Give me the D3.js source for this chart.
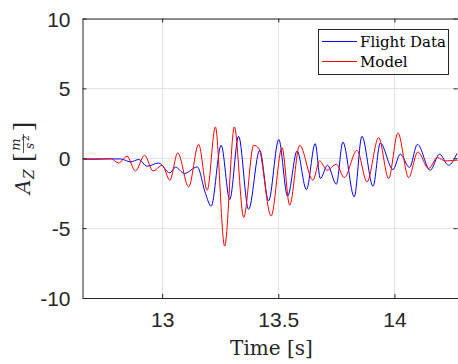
<!DOCTYPE html>
<html>
<head>
<meta charset="utf-8">
<script src="https://cdn.jsdelivr.net/npm/d3@7"></script>
<style>
  html, body { margin: 0; padding: 0; background: #fff; }
  svg { display: block; }
</style>
</head>
<body>
<svg id="chart" width="458" height="364"></svg>
<script>
// ---- data ----
const flightT = [12.661, 12.821, 12.864, 12.899, 12.935, 12.985, 13.033, 13.057, 13.096, 13.151, 13.186, 13.211,
  13.254, 13.291, 13.329, 13.372, 13.420, 13.458, 13.502, 13.540, 13.581, 13.621, 13.659, 13.681, 13.712,
  13.750, 13.778, 13.827, 13.860, 13.908, 13.939, 13.994, 14.025, 14.065, 14.099, 14.154, 14.194, 14.233, 14.269];
const flightV = [-0.05, -0.05, -0.26, -0.09, -0.57, -0.34, -1.05, -0.64, -1.09, -0.62, -2.50, -3.43,
  0.93, -2.95, 1.57, -3.66, 0.57, -3.05, 1.34, -2.71, 0.52, -2.24, 1.05, -1.45, -0.50,
  -1.86, 1.16, -2.76, 1.57, -2.00, 1.09, -0.81, 0.29, -0.66, 1.00, -0.86, 0.29, -0.50, 0.34];

const modelT = [12.661, 12.735, 12.778, 12.813, 12.849, 12.885, 12.924, 12.961, 13.000, 13.033, 13.067, 13.114,
  13.157, 13.194, 13.229, 13.269, 13.311, 13.351, 13.394, 13.416, 13.469, 13.516, 13.549, 13.592, 13.649,
  13.678, 13.710, 13.750, 13.784, 13.839, 13.882, 13.932, 13.975, 14.015, 14.061, 14.101, 14.147, 14.185, 14.219, 14.278];
const modelV = [-0.09, -0.07, -0.02, -0.34, 0.14, -0.91, 0.21, -0.91, -0.50, -1.57, 0.38, -2.05,
  1.00, -2.29, 2.24, -6.29, 2.24, -4.24, 0.93, 0.71, -4.14, 0.76, -3.36, 0.93, -1.57,
  -0.19, -0.86, -0.43, -1.38, 0.57, -1.69, 1.48, -1.45, 1.81, -1.38, 0.45, -0.74, 0.05, -0.19, -0.12];

const xTicks = [13, 13.5, 14];
const xTickLabels = ["13", "13.5", "14"];
const yTicks = [-10, -5, 0, 5, 10];
const yTickLabels = ["-10", "-5", "0", "5", "10"];
const seriesNames = ["Flight Data", "Model"];
const seriesColors = ["#0000ff", "#ff0000"];

// ---- layout ----
const L = 82.5, R = 459, T = 18.5, B = 298;
const svg = d3.select("#chart");

const x = d3.scaleLinear().domain([12.657, 14.278]).range([L, R]);
const y = d3.scaleLinear().domain([-10, 10]).range([B, T]);

// grid
const grid = svg.append("g");
grid.selectAll("line.gx").data(xTicks).join("line")
  .attr("x1", d => Math.round(x(d)) + 0.5).attr("x2", d => Math.round(x(d)) + 0.5)
  .attr("y1", T).attr("y2", B)
  .attr("stroke", "#e3e3e3").attr("stroke-width", 1);
grid.selectAll("line.gy").data(yTicks).join("line")
  .attr("y1", d => Math.round(y(d)) + 0.5).attr("y2", d => Math.round(y(d)) + 0.5)
  .attr("x1", L).attr("x2", R)
  .attr("stroke", "#e3e3e3").attr("stroke-width", 1);

// clip
svg.append("clipPath").attr("id", "clip").append("rect")
  .attr("x", L).attr("y", T).attr("width", R - L).attr("height", B - T);

const line = d3.line().x(d => x(d[0])).y(d => y(d[1])).curve(d3.curveMonotoneX);
const series = [
  d3.zip(flightT, flightV),
  d3.zip(modelT, modelV)
];
const plot = svg.append("g").attr("clip-path", "url(#clip)");
series.forEach((s, i) => {
  plot.append("path").datum(s)
    .attr("d", line)
    .attr("fill", "none")
    .attr("stroke", seriesColors[i])
    .attr("stroke-width", 1)
    .attr("stroke-linejoin", "round");
});

// axes (MATLAB style: ticks inside, box)
const axisColor = "#262626";
const xAxisB = d3.axisBottom(x).tickValues(xTicks).tickSizeInner(-4).tickSizeOuter(0)
  .tickFormat((d, i) => xTickLabels[i]).tickPadding(14);
const gxb = svg.append("g").attr("transform", `translate(0,${B})`).call(xAxisB);
const xAxisT = d3.axisTop(x).tickValues(xTicks).tickSizeInner(-4).tickSizeOuter(0).tickFormat("");
const gxt = svg.append("g").attr("transform", `translate(0,${T})`).call(xAxisT);
const yAxisL = d3.axisLeft(y).tickValues(yTicks).tickSizeInner(-4).tickSizeOuter(0)
  .tickFormat((d, i) => yTickLabels[i]).tickPadding(12);
const gyl = svg.append("g").attr("transform", `translate(${L},0)`).call(yAxisL);
const yAxisR = d3.axisRight(y).tickValues(yTicks).tickSizeInner(-4).tickSizeOuter(0).tickFormat("");
const gyr = svg.append("g").attr("transform", `translate(${R - 1.5},0)`).call(yAxisR);

[gxb, gxt, gyl, gyr].forEach(g => {
  g.select(".domain").attr("stroke", axisColor).attr("stroke-width", 1);
  g.selectAll(".tick line").attr("stroke", axisColor).attr("stroke-width", 1);
  g.selectAll(".tick text")
    .attr("fill", axisColor)
    .style("font-family", "'Liberation Sans', Arial, sans-serif")
    .style("font-size", "21px");
});
gyr.select(".domain").remove();
gxb.selectAll(".tick text").attr("dy", "0.71em");
gyl.selectAll(".tick text").attr("dy", "0.36em");

// x label
svg.append("text")
  .attr("x", 271.5).attr("y", 355)
  .attr("text-anchor", "middle")
  .style("font-family", "'DejaVu Serif', serif")
  .style("font-size", "20px")
  .attr("fill", axisColor)
  .text("Time [s]");

// y label: A_Z [m / s^2]
const yl = svg.append("g").attr("transform", "translate(30,158) rotate(-90)")
  .attr("fill", axisColor);
yl.append("text").attr("x", -36).attr("y", 0)
  .style("font-family", "'DejaVu Serif', serif").style("font-style", "italic").style("font-size", "20px")
  .text("A");
yl.append("text").attr("x", -21).attr("y", 4)
  .style("font-family", "'DejaVu Serif', serif").style("font-style", "italic").style("font-size", "14px")
  .text("Z");
yl.append("text").attr("x", -4).attr("y", 2)
  .style("font-family", "'Liberation Serif', serif").style("font-size", "28px")
  .text("[");
yl.append("text").attr("x", 13.5).attr("y", -10)
  .attr("text-anchor", "middle")
  .style("font-family", "'DejaVu Serif', serif").style("font-style", "italic").style("font-size", "13px")
  .text("m");
yl.append("line").attr("x1", 5).attr("x2", 24).attr("y1", -6.5).attr("y2", -6.5)
  .attr("stroke", axisColor).attr("stroke-width", 0.8);
yl.append("text").attr("x", 9).attr("y", 4)
  .style("font-family", "'DejaVu Serif', serif").style("font-style", "italic").style("font-size", "12px")
  .text("s");
yl.append("text").attr("x", 17).attr("y", -1)
  .style("font-family", "'DejaVu Serif', serif").style("font-size", "9px")
  .text("2");
yl.append("text").attr("x", 27).attr("y", 2)
  .style("font-family", "'Liberation Serif', serif").style("font-size", "28px")
  .text("]");

// legend
const lg = svg.append("g");
lg.append("rect").attr("x", 318.5).attr("y", 29.5).attr("width", 130).attr("height", 45)
  .attr("fill", "#fff").attr("stroke", axisColor).attr("stroke-width", 1);
seriesNames.forEach((name, i) => {
  const ly = 41.5 + i * 20;
  lg.append("line").attr("x1", 322).attr("x2", 357).attr("y1", ly).attr("y2", ly)
    .attr("stroke", seriesColors[i]).attr("stroke-width", 1);
  lg.append("text").attr("x", 360).attr("y", ly + 5)
    .style("font-family", "'DejaVu Serif', serif").style("font-size", "15px")
    .attr("fill", "#000")
    .text(name);
});
</script>
</body>
</html>
